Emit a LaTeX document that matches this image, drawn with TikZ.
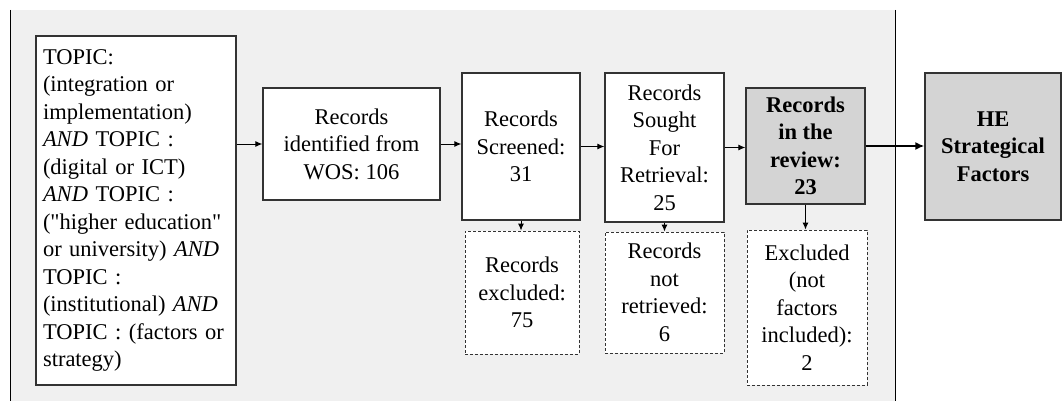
\documentclass[tikz,border=0pt]{standalone}
\usepackage{fontspec}
\setmainfont{Liberation Serif}[Ligatures=TeXOff]
\usepackage{tikz}
\usetikzlibrary{arrows.meta,positioning}

\begin{document}
\begin{tikzpicture}[x=1pt,y=-1pt,>=Latex,
  box/.style={draw=black!80,line width=1.3pt,fill=white,align=center,inner sep=2pt,
    font=\fontsize{22.5}{27.5}\selectfont},
  exbox/.style={box,line width=0.9pt,dash pattern=on 3pt off 2pt},
  keybox/.style={box,fill=black!17,font=\fontsize{22.5}{27.5}\selectfont\bfseries},
  flow/.style={-{Latex[length=7pt,width=6pt]},line width=1pt},
  bigflow/.style={-{Latex[length=9pt,width=8pt]},line width=2.6pt}]
\useasboundingbox (0,0) rectangle (1062,401);
% review panel
\fill[black!6] (10,10) rectangle (895,401);
\draw[line width=1pt] (10,10) -- (10,401);
\draw[line width=1pt] (895,10) -- (895,401);
% boxes
\node[box,minimum width=200pt,minimum height=349pt,text width=186pt,align=left] (topic) at (136,210.5) {TOPIC:\\(integration or\\implementation)\\\textit{AND} TOPIC :\\(digital or ICT)\\\textit{AND} TOPIC :\\("higher education"\\or university) \textit{AND}\\TOPIC :\\(institutional) \textit{AND}\\TOPIC : (factors or\\strategy)};
\node[box,minimum width=177pt,minimum height=112pt] (wos) at (351.5,144) {Records\\identified from\\WOS: 106};
\node[box,minimum width=118pt,minimum height=147pt] (screened) at (521,146.5) {Records\\Screened:\\31};
\node[box,minimum width=119pt,minimum height=149pt] (sought) at (664.5,147.5) {Records\\Sought\\For\\Retrieval:\\25};
\node[keybox,minimum width=119pt,minimum height=116pt] (review) at (805.5,146) {Records\\in the\\review:\\23};
\node[keybox,minimum width=136pt,minimum height=147pt] (factors) at (993,146.5) {HE\\Strategical\\Factors};
\node[exbox,minimum width=114pt,minimum height=123pt] (excluded) at (522,292.5) {Records\\excluded:\\75};
\node[exbox,minimum width=119pt,minimum height=121pt] (notretr) at (664.5,292.5) {Records\\not\\retrieved:\\6};
\node[exbox,minimum width=120pt,minimum height=155pt] (nofactor) at (807,307.5) {Excluded\\(not\\factors\\included):\\2};
% connectors
\draw[flow] (wos.west -| topic.east) -- (wos.west);
\draw[flow] (wos.east) -- (screened.west |- wos.east);
\draw[flow] (screened.east) -- (sought.west |- screened.east);
\draw[flow] (sought.east) -- (review.west |- sought.east);
\draw[bigflow] (review.east) -- (factors.west |- review.east);
\draw[flow] (screened.south) -- (excluded.north -| screened.south);
\draw[flow] (sought.south) -- (notretr.north);
\draw[flow] (review.south) -- (nofactor.north -| review.south);
\end{tikzpicture}
\end{document}
